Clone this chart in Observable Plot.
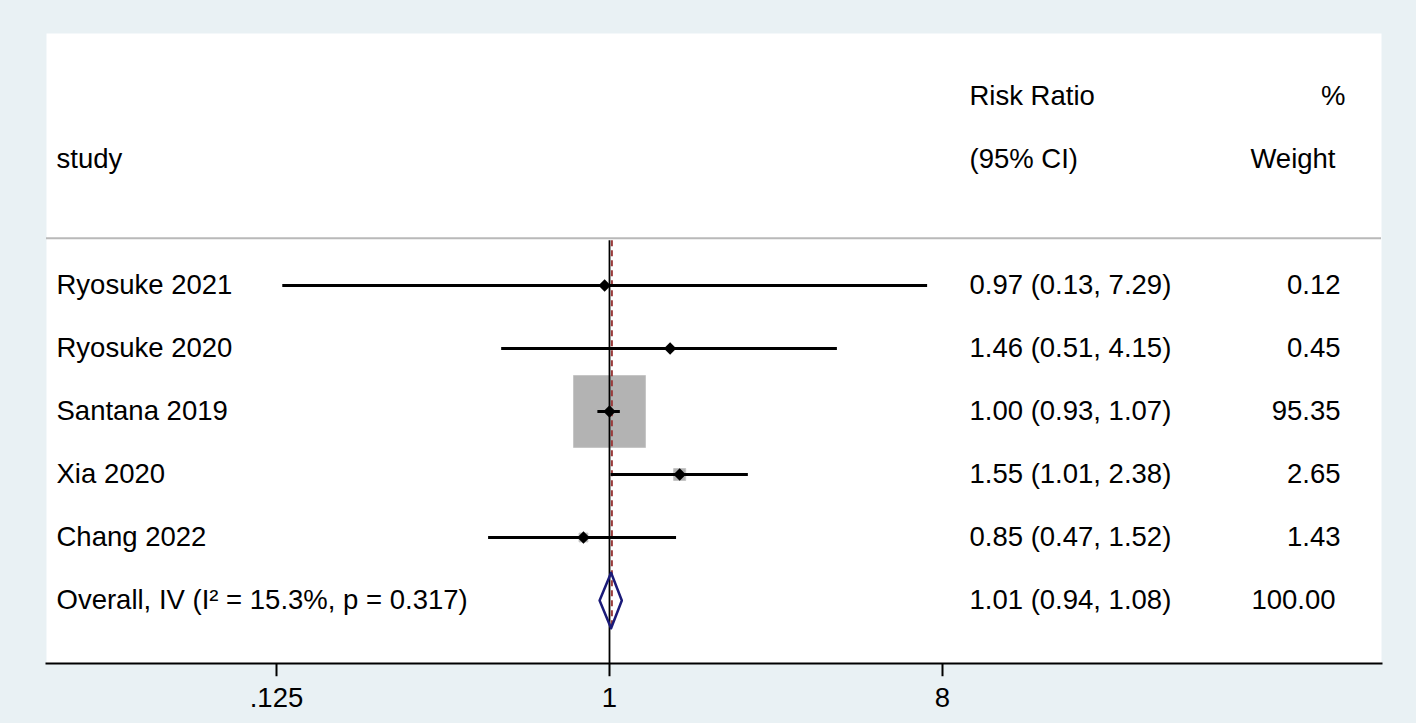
<!DOCTYPE html>
<html>
<head>
<meta charset="utf-8">
<script src="https://cdn.jsdelivr.net/npm/d3@7"></script>
<script src="https://cdn.jsdelivr.net/npm/@observablehq/plot@0.6"></script>
<style>
  html, body { margin: 0; padding: 0; background: #e9f1f4; }
  #chart svg { display: block; }
</style>
</head>
<body>
<div id="chart"></div>
<script>
// ---- data ----
const studies = ["Ryosuke 2021", "Ryosuke 2020", "Santana 2019", "Xia 2020", "Chang 2022"];
const riskRatio = [0.97, 1.46, 1.00, 1.55, 0.85];
const ciLow = [0.13, 0.51, 0.93, 1.01, 0.47];
const ciHigh = [7.29, 4.15, 1.07, 2.38, 1.52];
const weights = [0.12, 0.45, 95.35, 2.65, 1.43];

const overallLabel = "Overall, IV (I\u00B2 = 15.3%, p = 0.317)";
const overallRR = 1.01;
const overallLow = 0.94;
const overallHigh = 1.08;
const overallWeight = 100.00;

const xTicks = [0.125, 1, 8];
const xTickLabels = [".125", "1", "8"];

const headerTop = ["Risk Ratio", "%"];
const headerBottom = ["study", "(95% CI)", "Weight"];

// ---- build table ----
const f2 = d3.format(".2f");
const firstRow = 3;
const rows = studies.map((s, i) => ({
  study: s, rr: riskRatio[i], lo: ciLow[i], hi: ciHigh[i], w: weights[i], row: firstRow + i
}));
const overallRow = firstRow + studies.length;
const overall = {study: overallLabel, rr: overallRR, lo: overallLow, hi: overallHigh, w: overallWeight, row: overallRow};
const ciText = d => `${f2(d.rr)} (${f2(d.lo)}, ${f2(d.hi)})`;
const tickData = xTicks.map((t, i) => ({x: t, label: xTickLabels[i]}));

const half = 0.44;
const diamond = [
  {x: overall.lo, y: overall.row},
  {x: overall.rr, y: overall.row - half},
  {x: overall.hi, y: overall.row},
  {x: overall.rr, y: overall.row + half},
  {x: overall.lo, y: overall.row}
];

const FS = 27.5;
const font = "'Liberation Sans', Arial, Helvetica, sans-serif";

const chart = Plot.plot({
  width: 1416,
  height: 723,
  marginLeft: 46,
  marginRight: 35,
  marginTop: 33,
  marginBottom: 60,
  style: {background: "#e9f1f4", fontFamily: font, fontSize: FS + "px", color: "black"},
  x: {type: "log", domain: [0.125, 8], range: [276, 942], axis: null},
  y: {domain: [overallRow + 1, -1], axis: null},
  r: {type: "sqrt", domain: [0, d3.max(weights)], range: [0, 40.6]},
  marks: [
    Plot.frame({fill: "white", stroke: null}),
    Plot.ruleY([2.25], {stroke: "#b9b9b9", strokeWidth: 2}),
    Plot.dot(rows, {x: "rr", y: "row", r: "w", symbol: "square", fill: "#b3b3b3", stroke: "#c6c6c6", strokeWidth: 1}),
    Plot.ruleX([1], {y1: 2.29, y2: overallRow + 1, stroke: "black", strokeWidth: 1.8}),
    Plot.ruleX([overall.rr], {y1: 2.29, y2: overallRow + 0.47, stroke: "#9a3c3c", strokeWidth: 2, strokeDasharray: "6,4", dx: 0.8}),
    Plot.ruleY(rows, {y: "row", x1: "lo", x2: "hi", stroke: "black", strokeWidth: 3}),
    Plot.dot(rows, {x: "rr", y: "row", symbol: "diamond2", r: 5.6, fill: "black", stroke: null}),
    Plot.line(diamond, {x: "x", y: "y", stroke: "#1a1a78", strokeWidth: 2.5, fill: "none"}),
    // study labels
    Plot.text([...rows, overall], {y: "row", text: "study", frameAnchor: "left", dx: 10, textAnchor: "start", fontSize: FS, fill: "black"}),
    // CI column
    Plot.text([...rows, overall], {y: "row", text: ciText, frameAnchor: "right", dx: -412, textAnchor: "start", fontSize: FS, fill: "black"}),
    // weight column
    Plot.text(rows, {y: "row", text: d => f2(d.w), frameAnchor: "right", dx: -41, textAnchor: "end", fontSize: FS, fill: "black"}),
    Plot.text([overall], {y: "row", text: d => f2(d.w), frameAnchor: "right", dx: -46, textAnchor: "end", fontSize: FS, fill: "black"}),
    // headers
    Plot.text([headerTop[0]], {y: 0, text: d => d, frameAnchor: "right", dx: -412, textAnchor: "start", fontSize: FS, fill: "black"}),
    Plot.text([headerTop[1]], {y: 0, text: d => d, frameAnchor: "right", dx: -36, textAnchor: "end", fontSize: FS, fill: "black"}),
    Plot.text([headerBottom[0]], {y: 1, text: d => d, frameAnchor: "left", dx: 10, textAnchor: "start", fontSize: FS, fill: "black"}),
    Plot.text([headerBottom[1]], {y: 1, text: d => d, frameAnchor: "right", dx: -412, textAnchor: "start", fontSize: FS, fill: "black"}),
    Plot.text([headerBottom[2]], {y: 1, text: d => d, frameAnchor: "right", dx: -46, textAnchor: "end", fontSize: FS, fill: "black"}),
    // axis
    Plot.frame({anchor: "bottom", stroke: "black", strokeWidth: 2}),
    Plot.ruleX(tickData, {x: "x", y1: overallRow + 1, y2: overallRow + 1.21, stroke: "black", strokeWidth: 2}),
    Plot.text(tickData, {x: "x", frameAnchor: "bottom", text: "label", lineAnchor: "top", dy: 24, fontSize: FS, fill: "black"})
  ]
});
document.getElementById("chart").appendChild(chart);
</script>
</body>
</html>
